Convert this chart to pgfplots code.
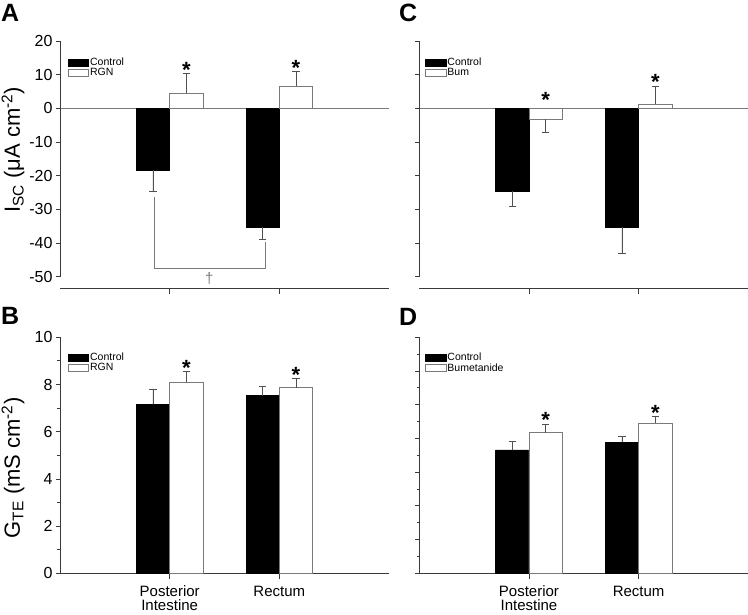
\documentclass[border=0pt]{standalone}
\usepackage{fontspec}
\setmainfont{Liberation Sans}
\usepackage{pgfplots}
\pgfplotsset{compat=1.18}

\definecolor{axcol}{HTML}{3A3A3A}
\definecolor{errcol}{HTML}{505050}
\definecolor{barline}{HTML}{7A7A7A}

\pgfplotsset{
  panel/.style={
    scale only axis, width=329pt, xmin=0, xmax=3, clip=false,
    axis x line=bottom, axis y line=left,
    axis line style={-, draw=axcol, line width=0.8pt},
    tick align=outside, major tick length=4pt, minor tick length=2.5pt,
    tick style={axcol, line width=0.8pt},
    xtick={1,2}, xtick style={/pgfplots/major tick length=6pt},
    ticklabel style={font=\fontsize{16}{16}\selectfont},
    /pgf/number format/assume math mode=true,
    xticklabel style={font=\fontsize{15}{14}\selectfont, align=center, yshift=-5pt},
    legend style={draw=none, fill=none, anchor=north west, inner sep=0pt,
      row sep=-0.8pt, nodes={inner sep=1pt}},
    legend cell align=left,
  },
  isc/.style={panel, height=247pt, ymin=-53.4, ymax=20, ytick={-50,-40,...,20},
    y axis line style={draw=none}},
  gte/.style={panel, height=236pt, ymin=0},
  legbox/.style={legend image code/.code={\draw[##1] (0pt,-3.3pt) rectangle (20.6pt,3.3pt);}},
  % bars are 33 px wide = 0.3036 x-units; control left of the tick, treatment right
  ctl/.style={ybar, bar width=0.3036, bar shift=0pt, fill=black, draw=black, line width=0.8pt, legbox},
  trt/.style={ybar, bar width=0.3036, bar shift=0pt, fill=white, draw=barline, line width=0.8pt, legbox},
  errbase/.style={error bars/y explicit,
    error bars/error bar style={errcol, line width=0.8pt},
    error bars/error mark options={errcol, rotate=90, mark size=3.8pt, line width=0.8pt}},
  errdown/.style={errbase, error bars/y dir=minus},
  errup/.style={errbase, error bars/y dir=plus},
}
\newcommand{\sig}[2]{\node[anchor=base, inner sep=0pt, yshift=-3.5pt,
  font=\bfseries\fontsize{22}{22}\selectfont] at (axis cs:#1,#2) {*};}
\newcommand{\leg}[1]{\fontsize{10.5}{11}\selectfont #1}

\begin{document}
\begin{tikzpicture}
\useasboundingbox (0,0) rectangle (748pt,614pt);

% A: Isc, RGN
\begin{axis}[isc, at={(60pt,326pt)}, anchor=south west, xticklabels={},
  legend style={at={(0.023,0.935)}}]
\draw[barline, line width=0.8pt] (axis cs:0,0) -- (axis cs:3,0);
\draw[axcol, line width=0.8pt] (axis cs:0,-50) -- (axis cs:0,20);
\addplot[ctl, errdown] coordinates {(0.848,-18.45) +- (0,6.3) (1.848,-35.3) +- (0,3.6)};
\addlegendentry{\leg{Control}}
\addplot[trt, errup] coordinates {(1.152,4.46) +- (0,5.85) (2.152,6.6) +- (0,4.3)};
\addlegendentry{\leg{RGN}}
\sig{1.152}{10.3}
\sig{2.152}{10.9}
\draw[barline, line width=0.8pt] (axis cs:0.858,-26.4) |- (axis cs:1.870,-47.5) -- (axis cs:1.870,-39.8);
\node[barline, font=\fontsize{15}{15}\selectfont] at (axis cs:1.362,-50.7) {†};
\end{axis}

% C: Isc, bumetanide
\begin{axis}[isc, at={(419.3pt,326pt)}, anchor=south west, xticklabels={}, yticklabels={},
  legend style={at={(0.017,0.935)}}]
\draw[barline, line width=0.8pt] (axis cs:0,0) -- (axis cs:3,0);
\draw[axcol, line width=0.8pt] (axis cs:0,-50) -- (axis cs:0,20);
\addplot[ctl, errdown] coordinates {(0.848,-24.6) +- (0,4.5) (1.848,-35.4) +- (0,7.8)};
\addlegendentry{\leg{Control}}
\addplot[trt, errdown] coordinates {(1.152,-3.2) +- (0,3.85)};
\addlegendentry{\leg{Bum}}
\addplot[trt, errup, forget plot] coordinates {(2.152,1.2) +- (0,5.4)};
\sig{1.152}{1.4}
\sig{2.152}{6.6}
\end{axis}

% B: Gte, RGN
\begin{axis}[gte, at={(60pt,40.7pt)}, anchor=south west, ymax=10,
  ytick={0,2,...,10}, minor y tick num=1,
  xticklabels={Posterior\\Intestine, Rectum},
  legend style={at={(0.023,0.938)}}]
\addplot[ctl, errup] coordinates {(0.848,7.16) +- (0,0.65) (1.848,7.52) +- (0,0.38)};
\addlegendentry{\leg{Control}}
\addplot[trt, errup] coordinates {(1.152,8.09) +- (0,0.45) (2.152,7.87) +- (0,0.37)};
\addlegendentry{\leg{RGN}}
\sig{1.152}{8.54}
\sig{2.152}{8.24}
\end{axis}

% D: Gte, bumetanide
\begin{axis}[gte, at={(419.3pt,40.7pt)}, anchor=south west, ymax=7,
  ytick={0,...,7}, minor y tick num=1, yticklabels={},
  xticklabels={Posterior\\Intestine, Rectum},
  legend style={at={(0.017,0.938)}}]
\addplot[ctl, errup] coordinates {(0.848,3.66) +- (0,0.25) (1.848,3.89) +- (0,0.18)};
\addlegendentry{\leg{Control}}
\addplot[trt, errup] coordinates {(1.152,4.17) +- (0,0.25) (2.152,4.46) +- (0,0.18)};
\addlegendentry{\leg{Bumetanide}}
\sig{1.152}{4.42}
\sig{2.152}{4.64}
\end{axis}

% axis titles and panel letters
\node[rotate=90, anchor=base, font=\fontsize{22}{22}\selectfont] at (20pt,464pt)
  {I\textsubscript{SC} (μA cm\textsuperscript{-2})};
\node[rotate=90, anchor=base, font=\fontsize{22}{22}\selectfont] at (20pt,146pt)
  {G\textsubscript{TE} (mS cm\textsuperscript{-2})};
\node[anchor=base west, inner sep=0pt, font=\bfseries\fontsize{25}{25}\selectfont] at (1pt,592pt) {A};
\node[anchor=base west, inner sep=0pt, font=\bfseries\fontsize{25}{25}\selectfont] at (399pt,592pt) {C};
\node[anchor=base west, inner sep=0pt, font=\bfseries\fontsize{25}{25}\selectfont] at (1pt,289pt) {B};
\node[anchor=base west, inner sep=0pt, font=\bfseries\fontsize{25}{25}\selectfont] at (399pt,288pt) {D};
\end{tikzpicture}
\end{document}
